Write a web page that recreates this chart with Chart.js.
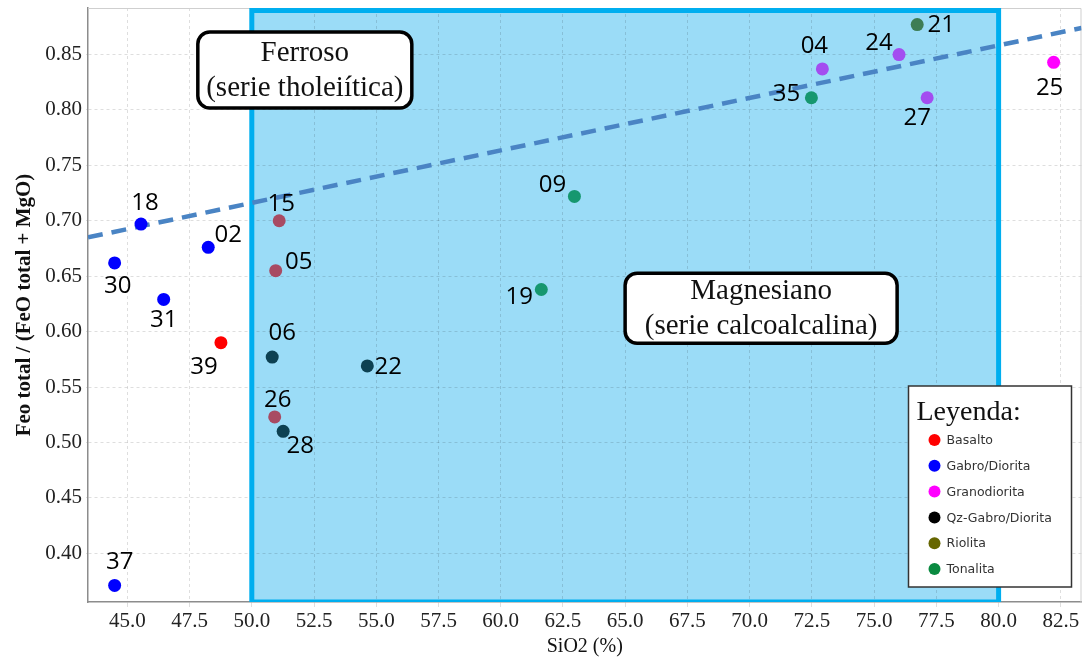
<!DOCTYPE html>
<html>
<head>
<meta charset="utf-8">
<script src="https://cdn.jsdelivr.net/npm/chart.js@4.4.1/dist/chart.umd.min.js"></script>
<style>
  html, body { margin: 0; padding: 0; background: #fff; overflow: hidden; }
</style>
</head>
<body>
<canvas id="diagrama" width="1088" height="662"></canvas>
<script>
// muestras: SiO2 (%) y FeOt / (FeOt + MgO)
const muestras = ['18', '30', '31', '02', '39', '37', '15', '05', '06', '22',
                  '26', '28', '09', '19', '04', '35', '24', '21', '27', '25'];
const sio2 = [45.55, 44.49, 46.46, 48.25, 48.76, 44.49, 51.10, 50.96, 50.82, 54.64,
              50.92, 51.26, 62.96, 61.63, 72.92, 72.48, 76.00, 76.73, 77.13, 82.21];
const feNum = [0.697, 0.662, 0.629, 0.676, 0.590, 0.371, 0.700, 0.655, 0.577, 0.569,
               0.523, 0.510, 0.722, 0.638, 0.837, 0.811, 0.850, 0.877, 0.811, 0.843];
const grupo = ['azul', 'azul', 'azul', 'azul', 'rojo', 'azul', 'granate', 'granate', 'petroleo', 'petroleo',
               'granate', 'petroleo', 'turquesa', 'turquesa', 'violeta', 'turquesa', 'violeta', 'verde', 'violeta', 'magenta'];

// limite ferroso / magnesiano
const limiteX = [43.42, 83.33];
const limiteY = [0.685, 0.874];

// campo magnesiano (SiO2)
const campoX = [50, 80];

// rangos de los ejes
const rangoX = [43.42, 83.33];
const rangoY = [0.356, 0.892];

// rotulos de los campos
const rotuloFerroso = ['Ferroso', '(serie tholeiítica)'];
const rotuloMagnesiano = ['Magnesiano', '(serie calcoalcalina)'];
const posFerroso = [52.13, 0.836];
const posMagnesiano = [70.46, 0.621];

const leyendaTitulo = 'Leyenda:';
const leyendaNombres = ['Basalto', 'Gabro/Diorita', 'Granodiorita', 'Qz-Gabro/Diorita', 'Riolita', 'Tonalita'];

// estilos
const colorGrupo = {
    azul: '#0000ff',
    rojo: '#ff0000',
    granate: '#a84b63',
    petroleo: '#0d4152',
    turquesa: '#16976f',
    verde: '#3d7d55',
    violeta: '#a34df0',
    magenta: '#ff00ff'
};
const leyendaColores = ['#ff0000', '#0000ff', '#ff00ff', '#000000', '#666600', '#0a8a40'];
// desplazamiento de cada numero respecto a su punto (px)
const etiquetaDesp = [[4, -21], [3, 23], [0, 21], [20, -12], [-17, 24], [5, -23], [2, -17], [23, -8], [10, -24], [21, 1],
                      [3, -17], [17, 15], [-22, -11], [-22, 8], [-8, -23], [-25, -4], [-20, -11], [24, 1], [-10, 20], [-4, 26]];

const SERIF = '"Liberation Serif", "Times New Roman", serif';

function cajaRedondeada(ctx, x, y, w, h, r) {
    ctx.beginPath();
    ctx.moveTo(x + r, y);
    ctx.arcTo(x + w, y, x + w, y + h, r);
    ctx.arcTo(x + w, y + h, x, y + h, r);
    ctx.arcTo(x, y + h, x, y, r);
    ctx.arcTo(x, y, x + w, y, r);
    ctx.closePath();
}

const campos = {
    id: 'campos',
    beforeDraw(chart) {
        const {ctx, chartArea: a, scales: {x}} = chart;
        const x0 = x.getPixelForValue(campoX[0]);
        const x1 = x.getPixelForValue(campoX[1]);
        ctx.save();
        ctx.fillStyle = '#9bdcf7';
        ctx.fillRect(x0, a.top, x1 - x0, a.bottom - a.top);
        ctx.restore();
    },
    beforeDatasetsDraw(chart) {
        const {ctx, chartArea: a, scales: {x}} = chart;
        // marco superior y derecho
        ctx.save();
        ctx.strokeStyle = '#cfcfcf';
        ctx.lineWidth = 1;
        ctx.beginPath();
        ctx.moveTo(a.left, a.top + 0.5);
        ctx.lineTo(a.right - 0.5, a.top + 0.5);
        ctx.lineTo(a.right - 0.5, a.bottom);
        ctx.stroke();
        // borde del campo magnesiano
        const x0 = x.getPixelForValue(campoX[0]);
        const x1 = x.getPixelForValue(campoX[1]);
        ctx.beginPath();
        ctx.rect(a.left, a.top, a.right - a.left, a.bottom - a.top);
        ctx.clip();
        ctx.strokeStyle = '#00aeef';
        ctx.lineWidth = 5;
        ctx.strokeRect(x0, a.top + 2.5, x1 - x0, a.bottom - a.top - 2.5);
        ctx.restore();
    },
    afterDatasetsDraw(chart) {
        const {ctx, scales: {x, y}} = chart;
        ctx.save();
        // rotulos de campo
        [[rotuloFerroso, posFerroso, 214, 76], [rotuloMagnesiano, posMagnesiano, 272, 70]].forEach(([txt, pos, w, h]) => {
            const cx = x.getPixelForValue(pos[0]);
            const cy = y.getPixelForValue(pos[1]);
            cajaRedondeada(ctx, cx - w / 2, cy - h / 2, w, h, 12);
            ctx.fillStyle = '#fff';
            ctx.fill();
            ctx.lineWidth = 3.5;
            ctx.strokeStyle = '#000';
            ctx.stroke();
            ctx.fillStyle = '#111';
            ctx.font = '29px ' + SERIF;
            ctx.textAlign = 'center';
            ctx.textBaseline = 'middle';
            ctx.fillText(txt[0], cx, cy - 17);
            ctx.fillText(txt[1], cx, cy + 18);
        });
        // numeros de muestra
        ctx.font = '24px "Open Sans", sans-serif';
        ctx.fillStyle = '#000';
        muestras.forEach((m, i) => {
            const px = x.getPixelForValue(sio2[i]) + etiquetaDesp[i][0];
            const py = y.getPixelForValue(feNum[i]) + etiquetaDesp[i][1];
            ctx.fillText(m, px, py);
        });
        ctx.restore();
    },
    afterDraw(chart) {
        const {ctx, chartArea: a} = chart;
        const w = 163, h = 201;
        const lx = a.right - 10 - w, ly = a.bottom - 15 - h;
        ctx.save();
        ctx.fillStyle = '#fff';
        ctx.fillRect(lx, ly, w, h);
        ctx.strokeStyle = '#333';
        ctx.lineWidth = 1.5;
        ctx.strokeRect(lx, ly, w, h);
        ctx.fillStyle = '#111';
        ctx.font = '28px ' + SERIF;
        ctx.textAlign = 'left';
        ctx.textBaseline = 'middle';
        ctx.fillText(leyendaTitulo, lx + 8, ly + 27);
        ctx.font = '12.5px "DejaVu Sans", sans-serif';
        leyendaNombres.forEach((n, i) => {
            const yy = ly + 54 + i * 25.8;
            ctx.beginPath();
            ctx.arc(lx + 26, yy, 6, 0, Math.PI * 2);
            ctx.fillStyle = leyendaColores[i];
            ctx.fill();
            ctx.fillStyle = '#333';
            ctx.fillText(n, lx + 38, yy + 1);
        });
        ctx.restore();
    }
};

const datasets = [{
    type: 'line',
    label: 'límite',
    data: limiteX.map((v, i) => ({x: v, y: limiteY[i]})),
    borderColor: '#4a84c4',
    borderWidth: 4.5,
    borderDash: [15, 9],
    pointRadius: 0,
    fill: false,
    order: 2
}];
Object.keys(colorGrupo).forEach(g => {
    const idx = muestras.map((_, i) => i).filter(i => grupo[i] === g);
    datasets.push({
        type: 'scatter',
        label: g,
        data: idx.map(i => ({x: sio2[i], y: feNum[i]})),
        backgroundColor: colorGrupo[g],
        borderWidth: 0,
        pointRadius: 6.5,
        order: 1
    });
});

const tickFont = {family: SERIF, size: 21};

new Chart(document.getElementById('diagrama'), {
    data: {datasets},
    options: {
        responsive: false,
        animation: false,
        layout: {padding: {top: 8, right: 0, left: 0, bottom: 0}},
        plugins: {legend: {display: false}, tooltip: {enabled: false}},
        scales: {
            x: {
                type: 'linear',
                min: rangoX[0],
                max: rangoX[1],
                afterFit: s => { s.height = 60; s.paddingLeft = 0; s.paddingRight = 0; },
                ticks: {stepSize: 2.5, includeBounds: false, callback: v => v.toFixed(1), font: tickFont, color: '#222', padding: 2, maxRotation: 0},
                grid: {color: 'rgba(0,0,0,0.13)', tickLength: 5},
                border: {color: '#8c8c8c', width: 1.5, dash: [3, 3]},
                title: {display: true, text: 'SiO2 (%)', font: {family: SERIF, size: 20}, color: '#111', padding: {top: 0, bottom: 3}}
            },
            y: {
                type: 'linear',
                min: rangoY[0],
                max: rangoY[1],
                afterFit: s => { s.width = 88; s.paddingTop = 0; s.paddingBottom = 0; },
                ticks: {stepSize: 0.05, includeBounds: false, callback: v => v.toFixed(2), font: tickFont, color: '#222', padding: 4},
                grid: {color: 'rgba(0,0,0,0.13)', tickLength: 2},
                border: {color: '#8c8c8c', width: 1.5, dash: [3, 3]},
                title: {display: true, text: 'Feo total / (FeO total + MgO)', font: {family: SERIF, size: 21, weight: 'bold'}, color: '#111', padding: {top: 12, bottom: 0}}
            }
        }
    },
    plugins: [campos]
});
</script>
</body>
</html>
